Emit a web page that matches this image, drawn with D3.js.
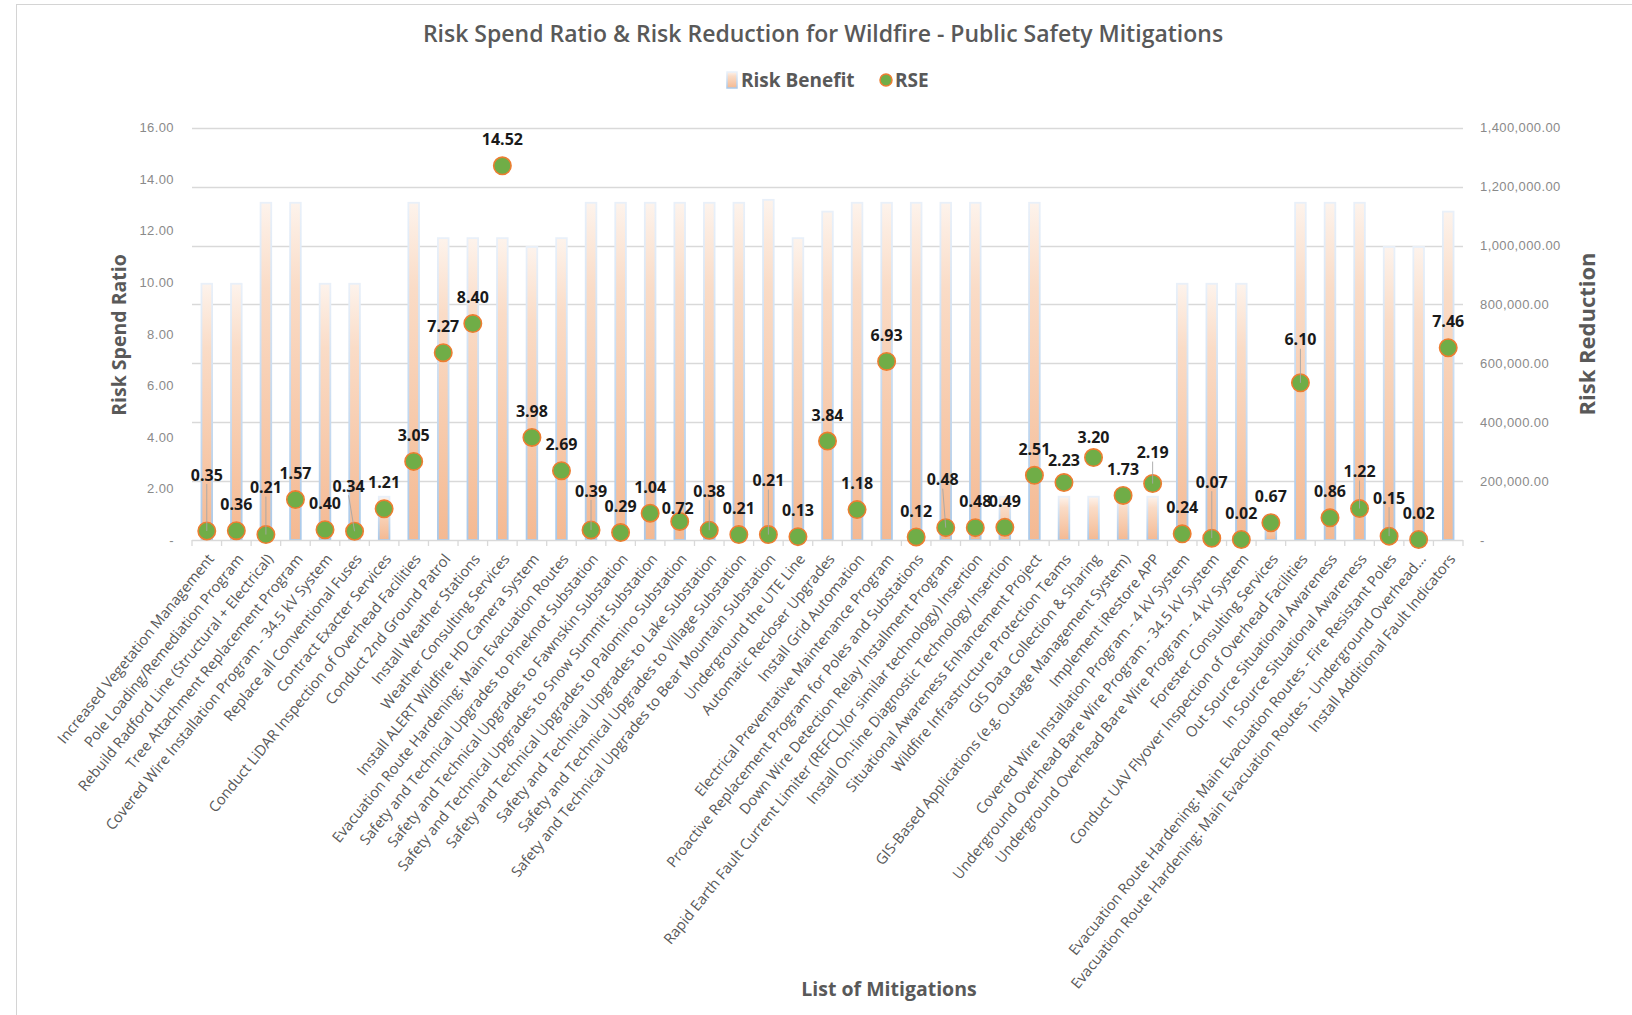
<!DOCTYPE html>
<html>
  <head>
    <title>Risk Spend Ratio & Risk Reduction</title>
    <meta charset="utf-8">
    <style>
      body { margin: 0; background: white; }
      svg { display: block; font-family: "Open Sans", sans-serif; }
      .tick-left, .tick-right { fill: #8a8a8a; font-size: 13px; letter-spacing: 0.4px; }
      .cat { fill: #595959; font-size: 14.7px; }
      .axis-title { fill: #595959; font-weight: 700; }
      .dlabel { fill: #1a1a1a; font-size: 16px; font-weight: 700; }
    </style>
  </head>
  <body>
  <svg id="chart"></svg>
  <script src="https://d3js.org/d3.v7.min.js"></script>
  <script>

  // ---- data ----
  var mitigations = [
    "Increased Vegetation Management",
    "Pole Loading/Remediation Program",
    "Rebuild Radford Line (Structural + Electrical)",
    "Tree Attachment Replacement Program",
    "Covered Wire Installation Program - 34.5 kV System",
    "Replace all Conventional Fuses",
    "Contract Exacter Services",
    "Conduct LiDAR Inspection of Overhead Facilities",
    "Conduct 2nd Ground Patrol",
    "Install Weather Stations",
    "Weather Consulting Services",
    "Install ALERT Wildfire HD Camera System",
    "Evacuation Route Hardening: Main Evacuation Routes",
    "Safety and Technical Upgrades to Pineknot Substation",
    "Safety and Technical Upgrades to Fawnskin Substation",
    "Safety and Technical Upgrades to Snow Summit Substation",
    "Safety and Technical Upgrades to Palomino Substation",
    "Safety and Technical Upgrades to Lake Substation",
    "Safety and Technical Upgrades to Village Substation",
    "Safety and Technical Upgrades to Bear Mountain Substation",
    "Underground the UTE Line",
    "Automatic Recloser Upgrades",
    "Install Grid Automation",
    "Electrical Preventative Maintenance Program",
    "Proactive Replacement Program for Poles and Substations",
    "Down Wire Detection Relay Installment Program",
    "Rapid Earth Fault Current Limiter (REFCL)(or similar technology) Insertion",
    "Install On-line Diagnostic Technology Insertion",
    "Situational Awareness Enhancement Project",
    "Wildfire Infrastructure Protection Teams",
    "GIS Data Collection & Sharing",
    "GIS-Based Applications (e.g. Outage Management System)",
    "Implement iRestore APP",
    "Covered Wire Installation Program - 4 kV System",
    "Underground Overhead Bare Wire Program - 34.5 kV System",
    "Underground Overhead Bare Wire Program - 4 kV System",
    "Forester Consulting Services",
    "Conduct UAV Flyover Inspection of Overhead Facilities",
    "Out Source Situational Awareness",
    "In Source Situational Awareness",
    "Evacuation Route Hardening: Main Evacuation Routes - Fire Resistant Poles",
    "Evacuation Route Hardening: Main Evacuation Routes - Underground Overhead...",
    "Install Additional Fault Indicators"
  ];

  var rse = [0.35, 0.36, 0.21, 1.57, 0.40, 0.34, 1.21, 3.05, 7.27, 8.40,
             14.52, 3.98, 2.69, 0.39, 0.29, 1.04, 0.72, 0.38, 0.21, 0.21,
             0.13, 3.84, 1.18, 6.93, 0.12, 0.48, 0.48, 0.49, 2.51, 2.23,
             3.20, 1.73, 2.19, 0.24, 0.07, 0.02, 0.67, 6.10, 0.86, 1.22,
             0.15, 0.02, 7.46];

  var riskBenefit = [870000, 870000, 1145000, 1145000, 870000, 870000, 147000, 1145000, 1025000, 1025000,
                     1025000, 995000, 1025000, 1145000, 1145000, 1145000, 1145000, 1145000, 1145000, 1155000,
                     1025000, 1115000, 1145000, 1145000, 1145000, 1145000, 1145000, 147000, 1145000, 147000,
                     147000, 147000, 147000, 870000, 870000, 870000, 85000, 1145000, 1145000, 1145000,
                     995000, 995000, 1115000];

  var leftTicks = [0, 2, 4, 6, 8, 10, 12, 14, 16];
  var rightTicks = [0, 200000, 400000, 600000, 800000, 1000000, 1200000, 1400000];

  // labels that were dragged away from their default spot (index -> [dx, dy])
  var labelMoves = {0: [0, -56], 2: [0, -47], 5: [-6, -45], 13: [0, -39], 16: [-2, -13],
                    17: [0, -39], 19: [0, -54], 25: [-3, -48], 29: [0, -22], 30: [0, -20],
                    32: [0, -31], 34: [0, -56], 37: [0, -43], 39: [0, -37], 40: [0, -38]};

  var W = 1632, H = 1015;
  var plot = {left: 192, right: 1463, top: 127.7, bottom: 540};

  var svg = d3.select("#chart").attr("width", W).attr("height", H);

  var defs = svg.append("defs");
  var g1 = defs.append("linearGradient").attr("id", "barFill")
    .attr("x1", 0).attr("y1", 0).attr("x2", 0).attr("y2", 1);
  g1.append("stop").attr("offset", "0%").attr("stop-color", "#fdf3ec");
  g1.append("stop").attr("offset", "25%").attr("stop-color", "#fadcc7");
  g1.append("stop").attr("offset", "100%").attr("stop-color", "#f4b992");
  var g2 = defs.append("linearGradient").attr("id", "barEdge")
    .attr("x1", 0).attr("y1", 0).attr("x2", 0).attr("y2", 1);
  g2.append("stop").attr("offset", "0%").attr("stop-color", "#e9f0f9");
  g2.append("stop").attr("offset", "100%").attr("stop-color", "#a9c9ea");

  // chart border
  svg.append("rect").attr("x", 16.5).attr("y", 4.5).attr("width", W).attr("height", H)
    .attr("fill", "none").attr("stroke", "#d4d4d4");

  var x = d3.scaleBand().domain(d3.range(mitigations.length))
    .range([plot.left, plot.right]).paddingInner(0.64).paddingOuter(0.32);
  var yL = d3.scaleLinear().domain([0, 16]).range([plot.bottom, plot.top]);
  var yR = d3.scaleLinear().domain([0, 1400000]).range([plot.bottom, plot.top]);
  var step = x.step();
  function cx(i) { return x(i) + x.bandwidth() / 2; }

  // gridlines (follow the right axis)
  svg.append("g").selectAll("line").data(rightTicks.slice(1)).enter().append("line")
    .attr("x1", plot.left).attr("x2", plot.right)
    .attr("y1", function(d) { return Math.round(yR(d)) + 0.5; })
    .attr("y2", function(d) { return Math.round(yR(d)) + 0.5; })
    .attr("stroke", "#d9d9d9").attr("stroke-width", 1.3);

  // left axis
  var fmtL = function(d) { return d === 0 ? "-" : d3.format(".2f")(d); };
  var leftAxis = svg.append("g").attr("transform", "translate(" + plot.left + ",0)")
    .call(d3.axisLeft(yL).tickValues(leftTicks).tickFormat(fmtL).tickSize(0).tickPadding(18));
  leftAxis.select(".domain").remove();
  leftAxis.selectAll("text").attr("class", "tick-left").attr("font-family", null).attr("font-size", null).attr("fill", null);

  // right axis
  var fmtR = function(d) { return d === 0 ? "-" : d3.format(",.2f")(d); };
  var rightAxis = svg.append("g").attr("transform", "translate(" + plot.right + ",0)")
    .call(d3.axisRight(yR).tickValues(rightTicks).tickFormat(fmtR).tickSize(0).tickPadding(17));
  rightAxis.select(".domain").remove();
  rightAxis.selectAll("text").attr("class", "tick-right").attr("font-family", null).attr("font-size", null).attr("fill", null);

  // bars (Risk Benefit, right axis)
  svg.append("g").selectAll("rect").data(riskBenefit).enter().append("rect")
    .attr("x", function(d, i) { return x(i); })
    .attr("width", x.bandwidth())
    .attr("y", function(d) { return yR(d); })
    .attr("height", function(d) { return plot.bottom - yR(d); })
    .attr("fill", "url(#barFill)")
    .attr("stroke", "url(#barEdge)").attr("stroke-width", 1.8);

  // category axis
  var xAxis = svg.append("g").attr("transform", "translate(0," + plot.bottom + ")");
  xAxis.append("line").attr("x1", plot.left).attr("x2", plot.right).attr("y1", 0.5).attr("y2", 0.5)
    .attr("stroke", "#d9d9d9").attr("stroke-width", 1.3);
  xAxis.selectAll(".tk").data(d3.range(mitigations.length + 1)).enter().append("line")
    .attr("x1", function(d) { return plot.left + d * step; })
    .attr("x2", function(d) { return plot.left + d * step; })
    .attr("y1", 0).attr("y2", 6).attr("stroke", "#d9d9d9").attr("stroke-width", 1.3);
  xAxis.selectAll(".cat").data(mitigations).enter().append("text")
    .attr("class", "cat")
    .attr("text-anchor", "end")
    .attr("dy", "0.35em")
    .attr("transform", function(d, i) { return "translate(" + (cx(i) + 4) + ",16) rotate(-51)"; })
    .text(function(d) { return d; });

  // RSE points (left axis)
  var pts = svg.append("g");
  pts.selectAll("circle").data(rse).enter().append("circle")
    .attr("cx", function(d, i) { return cx(i); })
    .attr("cy", function(d) { return yL(d); })
    .attr("r", 8.7)
    .attr("fill", "#70ad47").attr("stroke", "#ed7d31").attr("stroke-width", 1.6);

  // leader lines for moved labels
  pts.selectAll("line").data(rse.map(function(d, i) { return i; }).filter(function(i) {
      return labelMoves[i] && labelMoves[i][1] < -29; }))
    .enter().append("line")
    .attr("x1", function(i) { return cx(i) + labelMoves[i][0]; })
    .attr("y1", function(i) { return yL(rse[i]) + labelMoves[i][1] + 9; })
    .attr("x2", function(i) { return cx(i); })
    .attr("y2", function(i) { return yL(rse[i]); })
    .attr("stroke", "#a6a6a6").attr("stroke-width", 0.9);

  // data labels
  svg.append("g").selectAll("text").data(rse).enter().append("text")
    .attr("class", "dlabel")
    .attr("text-anchor", "middle")
    .attr("dy", "0.35em")
    .attr("x", function(d, i) { return cx(i) + (labelMoves[i] ? labelMoves[i][0] : 0); })
    .attr("y", function(d, i) { return yL(d) + (labelMoves[i] ? labelMoves[i][1] : -26); })
    .text(function(d) { return d.toFixed(2); });

  // titles
  svg.append("text").attr("x", 823).attr("y", 34).attr("dy", "0.35em")
    .attr("text-anchor", "middle").attr("fill", "#595959")
    .style("font-size", "23px").style("font-weight", 600)
    .text("Risk Spend Ratio & Risk Reduction for Wildfire - Public Safety Mitigations");

  svg.append("text").attr("class", "axis-title").attr("text-anchor", "middle")
    .attr("transform", "translate(119,335) rotate(-90)").attr("dy", "0.35em")
    .style("font-size", "19.5px")
    .text("Risk Spend Ratio");
  svg.append("text").attr("class", "axis-title").attr("text-anchor", "middle")
    .attr("transform", "translate(1587,334) rotate(-90)").attr("dy", "0.35em")
    .style("font-size", "22px")
    .text("Risk Reduction");
  svg.append("text").attr("class", "axis-title").attr("text-anchor", "middle")
    .attr("x", 889).attr("y", 989).attr("dy", "0.35em")
    .style("font-size", "19.5px")
    .text("List of Mitigations");

  // legend
  var lg = svg.append("g").attr("transform", "translate(0,80)");
  lg.append("rect").attr("x", 727).attr("y", -8).attr("width", 10).attr("height", 16)
    .attr("fill", "url(#barFill)").attr("stroke", "url(#barEdge)").attr("stroke-width", 1.5);
  lg.append("text").attr("x", 741).attr("dy", "0.35em").attr("fill", "#595959")
    .style("font-size", "19px").style("font-weight", 700).text("Risk Benefit");
  lg.append("circle").attr("cx", 886).attr("cy", 0).attr("r", 6)
    .attr("fill", "#70ad47").attr("stroke", "#ed7d31").attr("stroke-width", 1.5);
  lg.append("text").attr("x", 895).attr("dy", "0.35em").attr("fill", "#595959")
    .style("font-size", "19px").style("font-weight", 700).text("RSE");

  </script>
  </body>
</html>
